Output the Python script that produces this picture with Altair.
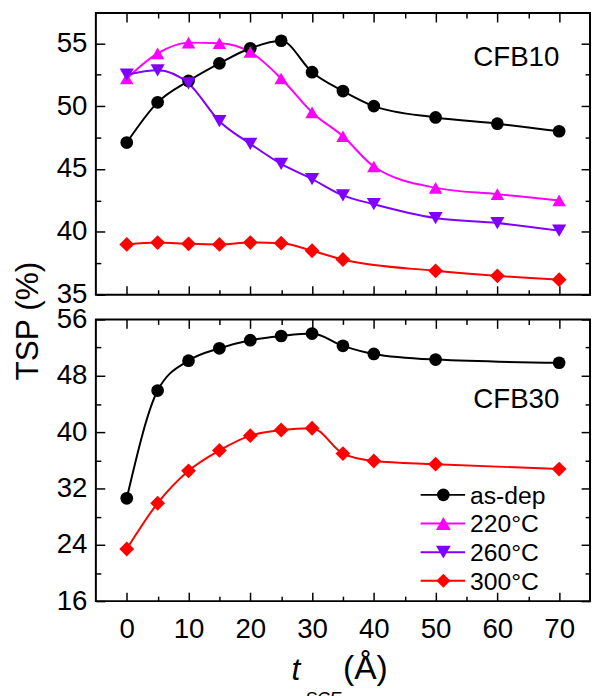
import altair as alt
import pandas as pd

# ---------------- data ----------------
series_names = ["as-dep", "220°C", "260°C", "300°C"]
series_colors = ["#000000", "#FF00FF", "#7F00FF", "#FF0000"]
series_shapes = ["circle", "triangle-up", "triangle-down", "diamond"]
series_sizes = [165, 225, 225, 200]

# top panel (CFB10)
top_x = [0, 5, 10, 15, 20, 25, 30, 35, 40, 50, 60, 70]
top_asdep = [47.1, 50.3, 52.0, 53.4, 54.6, 55.2, 52.7, 51.2, 50.0, 49.1, 48.6, 48.0]
top_220 = [52.2, 54.2, 55.05, 55.0, 54.3, 52.2, 49.5, 47.6, 45.2, 43.5, 43.0, 42.5]
top_260 = [52.5, 52.85, 51.8, 48.8, 47.0, 45.4, 44.2, 42.9, 42.2, 41.1, 40.7, 40.1]
top_300_x = [0, 5, 10, 15, 20, 25, 30, 35, 50, 60, 70]
top_300 = [39.0, 39.15, 39.05, 39.0, 39.15, 39.1, 38.5, 37.8, 36.9, 36.5, 36.2]

# bottom panel (CFB30)
bot_x = [0, 5, 10, 15, 20, 25, 30, 35, 40, 50, 70]
bot_asdep = [30.6, 45.9, 50.15, 51.9, 53.05, 53.65, 54.0, 52.25, 51.1, 50.3, 49.85]
bot_300 = [23.4, 29.9, 34.5, 37.4, 39.5, 40.3, 40.55, 36.95, 35.9, 35.45, 34.75]

# axes
x_major = [0, 10, 20, 30, 40, 50, 60, 70]
x_minor = [5, 15, 25, 35, 45, 55, 65]
top_y_major = [35, 40, 45, 50, 55]
top_y_minor = [37.5, 42.5, 47.5, 52.5]
bot_y_major = [16, 24, 32, 40, 48, 56]
bot_y_minor = [20, 28, 36, 44, 52]

panel_labels = ["CFB10", "CFB30"]
y_title = ["TSP (%)"]
x_title_parts = ["t", "SCE", "(Å)"]

FONT = "Liberation Sans"
W, H = 500, 285
X_DOMAIN = [-5, 75]
TOP_DOMAIN = [35, 57.4]
BOT_DOMAIN = [16, 56]

def frame(xs, ys, names):
    rows = []
    for xv, yv, n in zip(xs, ys, names):
        for a, b in zip(xv, yv):
            rows.append({"x": a, "y": b, "series": n})
    return pd.DataFrame(rows)

top_df = frame([top_x, top_x, top_x, top_300_x],
               [top_asdep, top_220, top_260, top_300], series_names)
bot_df = frame([bot_x, bot_x], [bot_asdep, bot_300], [series_names[0], series_names[3]])

color_scale = alt.Scale(domain=series_names, range=series_colors)
shape_scale = alt.Scale(domain=series_names, range=series_shapes)
size_scale = alt.Scale(domain=series_names, range=series_sizes)


def ax(orient, values, offset=0, tick=0, labels=False, pad=0):
    kw = dict(orient=orient, values=values, domain=False, grid=False, title=None,
              labels=labels, minExtent=0, offset=offset,
              tickColor="black", tickWidth=1.5, labelColor="black",
              labelFont=FONT, labelFontSize=28, labelPadding=pad)
    if tick > 0:
        kw.update(ticks=True, tickSize=tick)
    else:
        kw.update(ticks=False, tickSize=0)
    return alt.Axis(**kw)


def panel(df, ydomain, ymaj, ymin, show_x_labels, label_text, label_y, extra):
    xs = alt.Scale(domain=X_DOMAIN, nice=False, zero=False)
    ys = alt.Scale(domain=ydomain, nice=False, zero=False)
    base = alt.Chart(df)

    def inv(xaxis, yaxis):
        return base.mark_point(opacity=0).encode(
            x=alt.X("x:Q", scale=xs, axis=xaxis),
            y=alt.Y("y:Q", scale=ys, axis=yaxis),
        )

    axes = [
        inv(ax("bottom", x_major, labels=show_x_labels, pad=15) if show_x_labels else None,
            ax("left", ymaj, labels=True, pad=9)),
        inv(ax("top", x_major, offset=-H, tick=9), ax("right", ymaj, offset=-W, tick=9)),
        inv(ax("top", x_minor, offset=-H, tick=5), ax("right", ymin, offset=-W, tick=5)),
        inv(ax("bottom", x_major, offset=-H, tick=9), ax("left", ymaj, offset=-W, tick=9)),
        inv(ax("bottom", x_minor, offset=-H, tick=5), ax("left", ymin, offset=-W, tick=5)),
    ]

    lines = base.mark_line(interpolate="monotone", strokeWidth=2).encode(
        x=alt.X("x:Q", scale=xs, axis=None),
        y=alt.Y("y:Q", scale=ys, axis=None),
        color=alt.Color("series:N", scale=color_scale, legend=None),
        detail="series:N",
    )
    points = base.mark_point(filled=True, opacity=1, strokeWidth=0).encode(
        x=alt.X("x:Q", scale=xs, axis=None),
        y=alt.Y("y:Q", scale=ys, axis=None),
        color=alt.Color("series:N", scale=color_scale, legend=None),
        shape=alt.Shape("series:N", scale=shape_scale, legend=None),
        size=alt.Size("series:O", scale=size_scale, legend=None),
    )
    lbl = alt.Chart(pd.DataFrame({"t": [label_text]})).mark_text(
        align="right", baseline="alphabetic", font=FONT, fontSize=28, color="black"
    ).encode(text="t:N", x=alt.value(469), y=alt.value(label_y))

    layers = axes + [lines, points, lbl] + extra
    return alt.layer(*layers).resolve_axis(x="independent", y="independent").properties(
        width=W, height=H)


# y title (placed relative to top panel)
ytitle = alt.Chart(pd.DataFrame({"t": y_title})).mark_text(
    angle=270, align="center", baseline="alphabetic", font=FONT, fontSize=32, color="black"
).encode(text="t:N", x=alt.value(-58.5), y=alt.value(311.7))

# legend (in bottom panel)
legend_layers = []
for i, (n, c, s, sz) in enumerate(zip(series_names, series_colors, series_shapes, series_sizes)):
    ly = 177.5 + 29 * i
    d = alt.Chart(pd.DataFrame({"series": [n]}))
    legend_layers.append(d.mark_rule(color=c, strokeWidth=2).encode(
        x=alt.value(328.6), x2=alt.value(373.6), y=alt.value(ly)))
    legend_layers.append(d.mark_point(filled=True, opacity=1, shape=s, size=sz, color=c,
                                      strokeWidth=0).encode(
        x=alt.value(351.6), y=alt.value(ly)))
    legend_layers.append(d.mark_text(align="left", baseline="alphabetic", font=FONT,
                                     fontSize=25, color="black").encode(
        text="series:N", x=alt.value(378.5), y=alt.value(ly + 9)))

# x title parts
xt = []
xt.append(alt.Chart(pd.DataFrame({"t": [x_title_parts[0]]})).mark_text(
    align="left", baseline="alphabetic", font=FONT, fontSize=32, fontStyle="italic",
    color="black").encode(text="t:N", x=alt.value(198), y=alt.value(364.7)))
xt.append(alt.Chart(pd.DataFrame({"t": [x_title_parts[1]]})).mark_text(
    align="left", baseline="alphabetic", font=FONT, fontSize=18, fontStyle="italic",
    color="black").encode(text="t:N", x=alt.value(211.5), y=alt.value(390)))
xt.append(alt.Chart(pd.DataFrame({"t": [x_title_parts[2]]})).mark_text(
    align="left", baseline="alphabetic", font=FONT, fontSize=34,
    color="black").encode(text="t:N", x=alt.value(250), y=alt.value(364)))

top = panel(top_df, TOP_DOMAIN, top_y_major, top_y_minor, False, panel_labels[0], 53.5, [ytitle])
bot = panel(bot_df, BOT_DOMAIN, bot_y_major, bot_y_minor, True, panel_labels[1], 90,
            legend_layers + xt)

chart = alt.vconcat(top, bot, spacing=25, bounds="flush").properties(
    padding={"left": 11, "top": 7, "right": 0, "bottom": 0},
    background="white",
).configure_view(stroke="black", strokeWidth=2).configure_scale(zero=False)

chart.save("out.html", embed_options={"renderer": "svg", "actions": False})
